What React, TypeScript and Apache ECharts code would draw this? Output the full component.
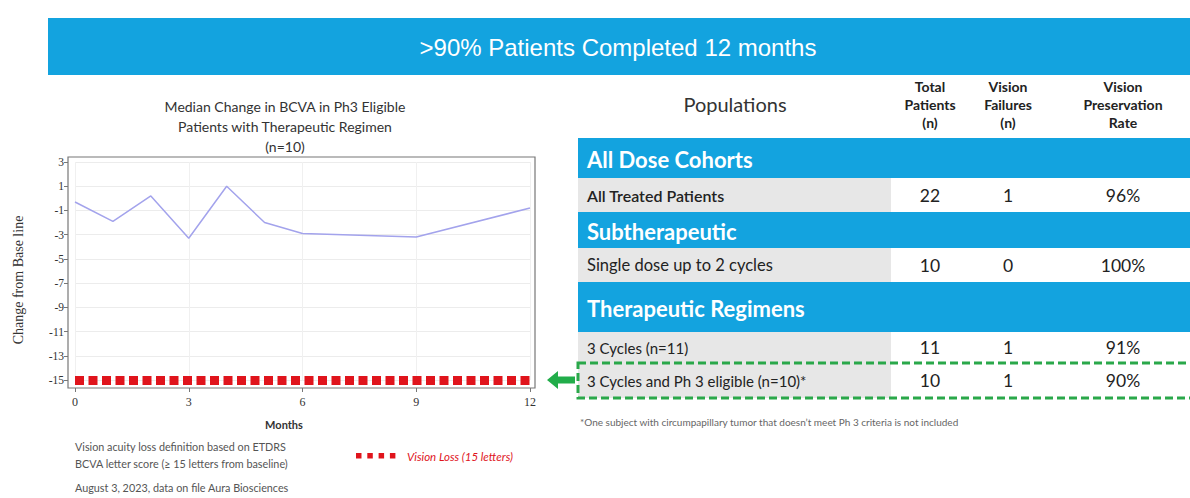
import React, { useEffect, useRef } from "react";
import * as echarts from "echarts";

// ---- Chart data ----
const months = [0, 1, 2, 3, 4, 5, 6, 9, 12];
const medianChange = [-0.3, -1.9, 0.2, -3.3, 1.0, -2.0, -2.9, -3.2, -0.8];
const visionLossLevel = -15;
const yMin = -15;
const yMax = 3;
const yTickStep = 2;
const xMin = 0;
const xMax = 12;
const xTickStep = 3;

const chartTitleLines = [
  "Median Change in BCVA in Ph3 Eligible",
  "Patients with Therapeutic Regimen",
  "(n=10)",
];
const bannerText = ">90% Patients Completed 12 months";

// ---- Table data ----
const columnHeaders = [
  ["Total", "Patients", "(n)"],
  ["Vision", "Failures", "(n)"],
  ["Vision", "Preservation", "Rate"],
];
const sectionTitles = ["All Dose Cohorts", "Subtherapeutic", "Therapeutic Regimens"];
const rowLabels = [
  "All Treated Patients",
  "Single dose up to 2 cycles",
  "3 Cycles (n=11)",
  "3 Cycles and Ph 3 eligible (n=10)*",
];
const totalPatients = [22, 10, 11, 10];
const visionFailures = [1, 0, 1, 1];
const preservationRate = ["96%", "100%", "91%", "90%"];

const footLeft = [
  "Vision acuity loss definition based on ETDRS",
  "BCVA letter score (\u2265 15 letters from baseline)",
];
const footDate = "August 3, 2023, data on file Aura Biosciences";
const footTable =
  "*One subject with circumpapillary tumor that doesn\u2019t meet Ph 3 criteria is not included";
const legendText = "Vision Loss (15 letters)";

const BLUE = "#13a3df";
const RED = "#e0141c";
const SANS = "Lato, 'Open Sans', sans-serif";
const SERIF = "'Liberation Serif', 'DejaVu Serif', serif";

function buildGraphics() {
  const g: any[] = [];
  // banner
  g.push({ type: "rect", shape: { x: 48, y: 18, width: 1142, height: 57 }, style: { fill: BLUE } });
  g.push({
    type: "text", x: 618, y: 47,
    style: { text: bannerText, fill: "#fff", font: "24px 'Liberation Sans', Arial, sans-serif", textAlign: "center", textVerticalAlign: "middle" },
  });
  // chart title
  chartTitleLines.forEach((t, i) => {
    g.push({
      type: "text", x: 285, y: 106 + i * 20,
      style: { text: t, fill: "#333", font: `14px ${SANS}`, textAlign: "center", textVerticalAlign: "middle" },
    });
  });
  // plot frame
  g.push({ type: "rect", z: 5, shape: { x: 68, y: 157, width: 467, height: 231 }, style: { fill: "none", stroke: "#777", lineWidth: 1.2 } });
  // axis name months
  g.push({
    type: "text", x: 284, y: 424,
    style: { text: "Months", fill: "#333", font: `bold 11px ${SANS}`, textAlign: "center", textVerticalAlign: "middle" },
  });
  // y axis name
  g.push({
    type: "text", x: 18, y: 280, rotation: Math.PI / 2,
    style: { text: "Change from Base line", fill: "#333", font: `14px ${SERIF}`, textAlign: "center", textVerticalAlign: "middle" },
  });
  // green arrow
  g.push({
    type: "polygon",
    shape: { points: [[547, 380], [558, 371], [558, 376.5], [575, 376.5], [575, 383.5], [558, 383.5], [558, 389]] },
    style: { fill: "#22ad4a" },
  });
  // left footnotes
  footLeft.forEach((t, i) => {
    g.push({
      type: "text", x: 75, y: 446 + i * 17,
      style: { text: t, fill: "#555", font: `10.8px ${SANS}`, textVerticalAlign: "middle" },
    });
  });
  g.push({
    type: "text", x: 75, y: 487,
    style: { text: footDate, fill: "#555", font: `10.8px ${SANS}`, textVerticalAlign: "middle" },
  });
  // legend
  for (let i = 0; i < 4; i++) {
    g.push({ type: "rect", shape: { x: 356 + i * 11.3, y: 453, width: 5.5, height: 5.5 }, style: { fill: RED } });
  }
  g.push({
    type: "text", x: 407, y: 456,
    style: { text: legendText, fill: RED, font: `italic 11.5px ${SANS}`, textVerticalAlign: "middle" },
  });

  // ---- table ----
  const colX = [930, 1008, 1123];
  g.push({
    type: "text", x: 735, y: 104,
    style: { text: "Populations", fill: "#333", font: `20px ${SANS}`, textAlign: "center", textVerticalAlign: "middle" },
  });
  columnHeaders.forEach((lines, c) => {
    lines.forEach((t, i) => {
      g.push({
        type: "text", x: colX[c], y: 86 + i * 18,
        style: { text: t, fill: "#222", font: `bold 14px ${SANS}`, textAlign: "center", textVerticalAlign: "middle" },
      });
    });
  });
  const sectionY = [[138, 40], [212, 36], [282, 50]];
  sectionTitles.forEach((t, i) => {
    const [y, h] = sectionY[i];
    g.push({ type: "rect", shape: { x: 578, y, width: 612, height: h }, style: { fill: BLUE } });
    g.push({
      type: "text", x: 587, y: y + h / 2 + 1,
      style: { text: t, fill: "#fff", font: `bold 22px ${SANS}`, textVerticalAlign: "middle" },
    });
  });
  const rowY = [[178, 34], [248, 34], [332, 31], [363, 35]];
  const rowFont = ["600 16px", "16.5px", "15px", "15px"];
  rowLabels.forEach((t, i) => {
    const [y, h] = rowY[i];
    g.push({ type: "rect", shape: { x: 578, y, width: 313, height: h }, style: { fill: "#e7e7e7" } });
    g.push({
      type: "text", x: 587, y: y + h / 2,
      style: { text: t, fill: "#222", font: `${rowFont[i]} ${SANS}`, textVerticalAlign: "middle" },
    });
    const vals = [String(totalPatients[i]), String(visionFailures[i]), preservationRate[i]];
    vals.forEach((v, c) => {
      g.push({
        type: "text", x: colX[c], y: y + h / 2,
        style: { text: v, fill: "#222", font: `17.5px ${SANS}`, textAlign: "center", textVerticalAlign: "middle" },
      });
    });
  });
  // dashed highlight
  g.push({
    type: "rect", z: 10, shape: { x: 578, y: 363, width: 640, height: 35 },
    style: { fill: "none", stroke: "#2aa84a", lineWidth: 3, lineDash: [8, 4] },
  });
  g.push({
    type: "text", x: 580, y: 422,
    style: { text: footTable, fill: "#666", font: `10px ${SANS}`, textVerticalAlign: "middle" },
  });
  return g;
}

export default function App() {
  const ref = useRef<HTMLDivElement>(null);
  useEffect(() => {
    if (!ref.current) return;
    const chart = echarts.init(ref.current, undefined, { renderer: "svg" });
    chart.setOption({
      animation: false,
      backgroundColor: "#fff",
      grid: { left: 75, right: 1190 - 530, top: 162, bottom: 498 - 380 },
      xAxis: {
        type: "value", min: xMin, max: xMax, interval: xTickStep, offset: 8,
        axisLine: { show: false, onZero: false },
        axisTick: { show: true, length: 4, lineStyle: { color: "#777" } },
        axisLabel: { color: "#333", fontFamily: SERIF, fontSize: 12, margin: 8 },
        splitLine: { show: true, lineStyle: { color: "#f0f0f0", width: 1 } },
      },
      yAxis: {
        type: "value", min: yMin, max: yMax, interval: yTickStep, offset: 7,
        axisLine: { show: false, onZero: false },
        axisTick: { show: true, length: 4, lineStyle: { color: "#777" } },
        axisLabel: { color: "#333", fontFamily: SERIF, fontSize: 11.5, margin: 4 },
        splitLine: { show: true, lineStyle: { color: "#ececec", width: 1 } },
      },
      series: [
        {
          type: "line",
          data: months.map((m, i) => [m, medianChange[i]]),
          showSymbol: false,
          lineStyle: { color: "#a3a3ec", width: 1.5 },
          z: 3,
        },
        {
          type: "line",
          data: [],
          markLine: {
            silent: true,
            symbol: "none",
            label: { show: false },
            lineStyle: { color: RED, width: 9, type: [9, 4.5], cap: "butt" },
            data: [{ yAxis: visionLossLevel }],
          },
          z: 4,
        },
      ],
      graphic: buildGraphics(),
    });
    return () => chart.dispose();
  }, []);
  return <div ref={ref} style={{ position: "absolute", left: 0, top: 0, width: 1190, height: 498 }} />;
}
